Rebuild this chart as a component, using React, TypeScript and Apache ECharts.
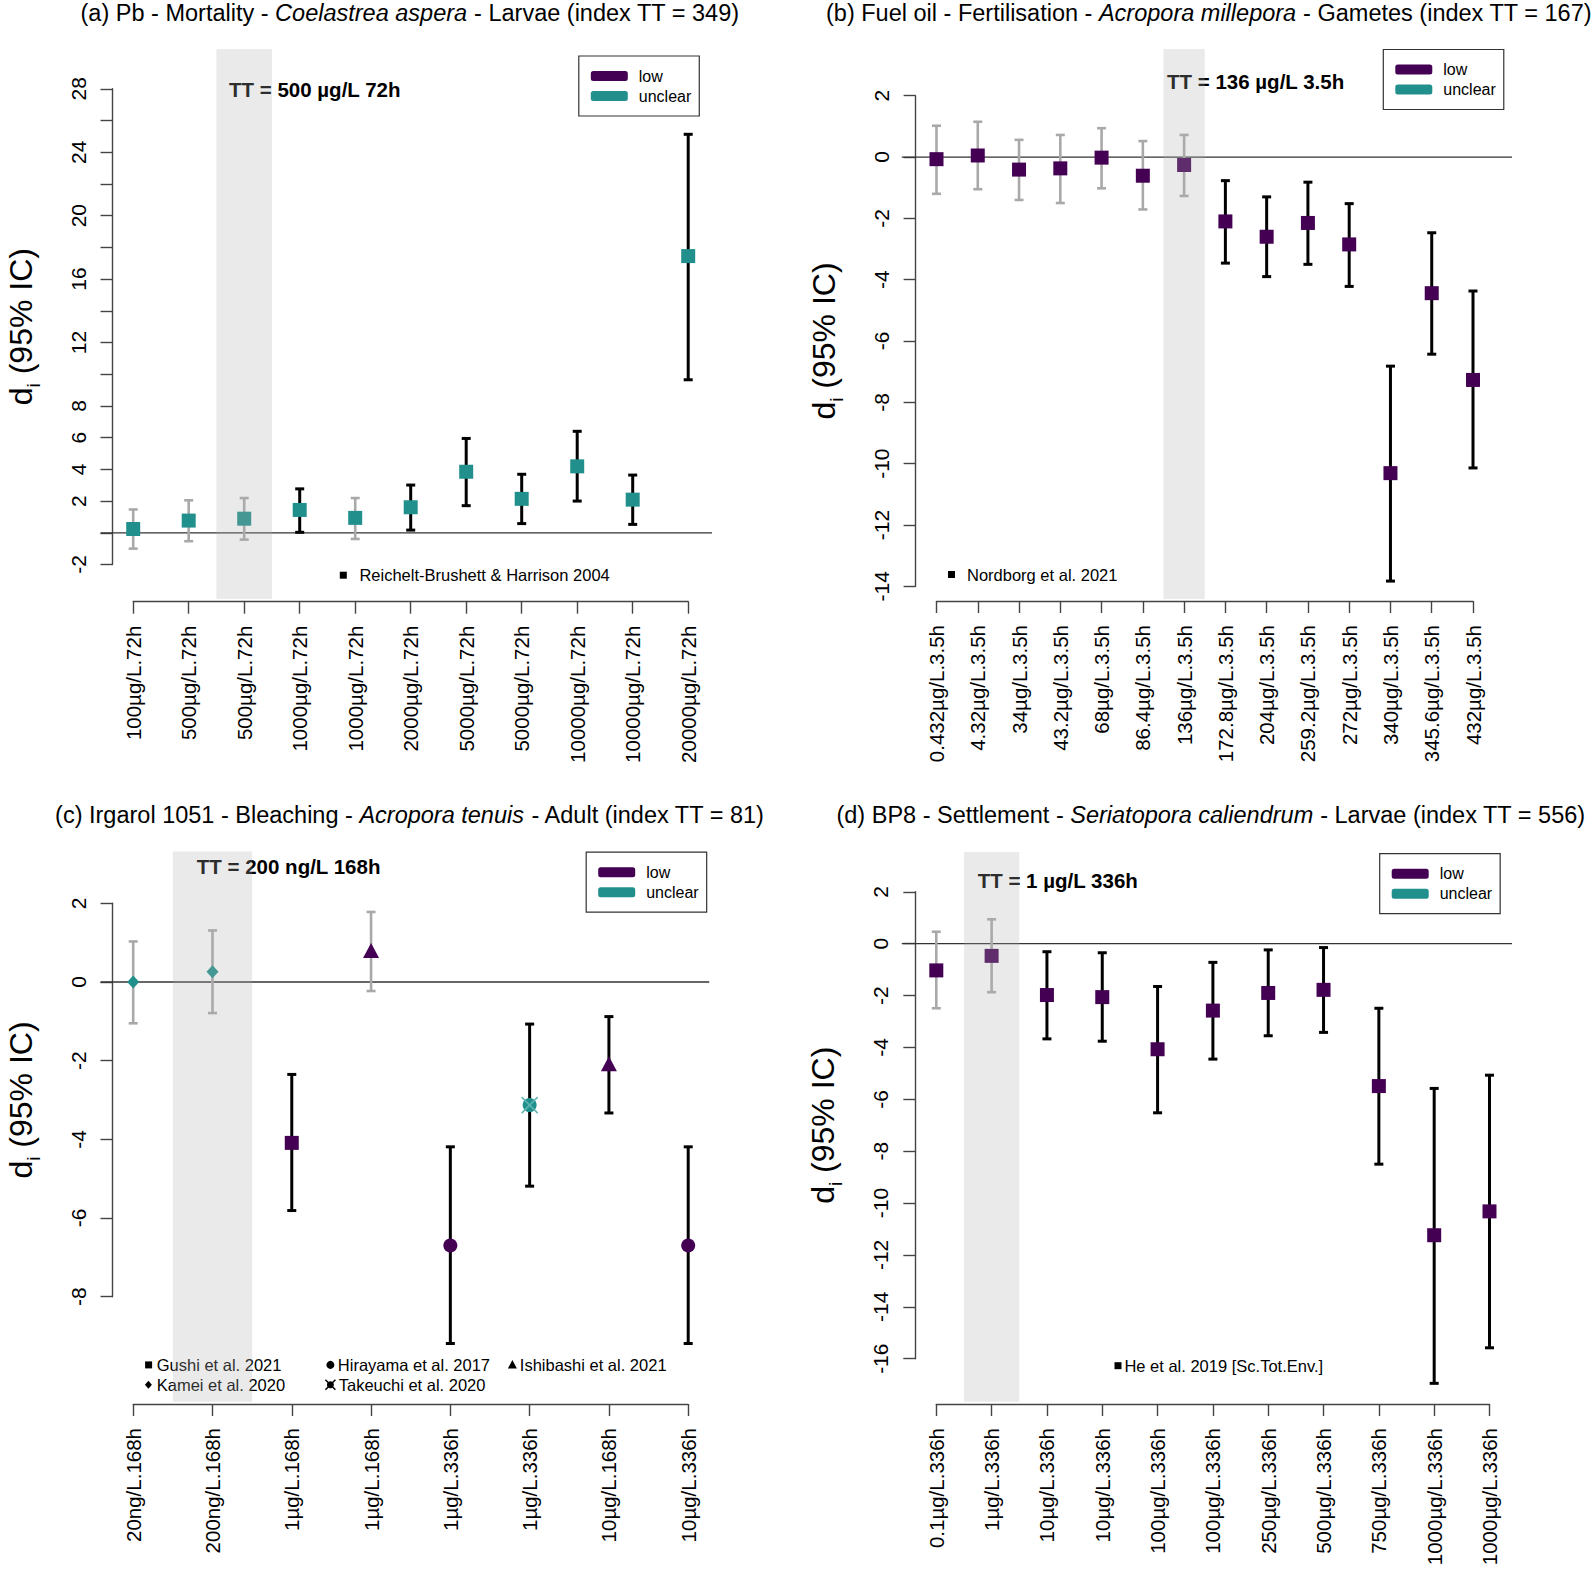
import React, { useEffect, useRef } from "react";
import * as echarts from "echarts";

const PURPLE = "#440154";
const TEAL = "#21908C";
const GREY = "#A9A9A9";
const FONT = "'Liberation Sans', Arial, Helvetica, sans-serif";

// ---------- (a) Pb - Mortality ----------
const catsA = ["100µg/L.72h", "500µg/L.72h", "500µg/L.72h", "1000µg/L.72h", "1000µg/L.72h", "2000µg/L.72h", "5000µg/L.72h", "5000µg/L.72h", "10000µg/L.72h", "10000µg/L.72h", "20000µg/L.72h"];
const estA = [0.24, 0.77, 0.89, 1.44, 0.94, 1.61, 3.85, 2.14, 4.19, 2.09, 17.45];
const loA = [-1.0, -0.53, -0.43, 0.03, -0.39, 0.17, 1.71, 0.58, 2.0, 0.53, 9.65];
const hiA = [1.47, 2.05, 2.19, 2.77, 2.19, 3.01, 5.95, 3.69, 6.4, 3.64, 25.13];
const clsA = ["unclear", "unclear", "unclear", "unclear", "unclear", "unclear", "unclear", "unclear", "unclear", "unclear", "unclear"];
const symA = ["square", "square", "square", "square", "square", "square", "square", "square", "square", "square", "square"];
const hiddenYA = [0, 10, 14, 18, 22, 26];

// ---------- (b) Fuel oil - Fertilisation ----------
const catsB = ["0.432µg/L.3.5h", "4.32µg/L.3.5h", "34µg/L.3.5h", "43.2µg/L.3.5h", "68µg/L.3.5h", "86.4µg/L.3.5h", "136µg/L.3.5h", "172.8µg/L.3.5h", "204µg/L.3.5h", "259.2µg/L.3.5h", "272µg/L.3.5h", "340µg/L.3.5h", "345.6µg/L.3.5h", "432µg/L.3.5h"];
const estB = [-0.07, 0.05, -0.41, -0.37, -0.02, -0.61, -0.26, -2.1, -2.6, -2.15, -2.85, -10.31, -4.44, -7.27];
const loB = [-1.2, -1.05, -1.4, -1.5, -1.02, -1.71, -1.27, -3.46, -3.9, -3.5, -4.22, -13.83, -6.43, -10.14];
const hiB = [1.02, 1.15, 0.56, 0.72, 0.94, 0.52, 0.72, -0.77, -1.3, -0.82, -1.52, -6.82, -2.47, -4.37];
const clsB = ["low", "low", "low", "low", "low", "low", "low", "low", "low", "low", "low", "low", "low", "low"];
const symB = ["square", "square", "square", "square", "square", "square", "square", "square", "square", "square", "square", "square", "square", "square"];

// ---------- (c) Irgarol 1051 - Bleaching ----------
const catsC = ["20ng/L.168h", "200ng/L.168h", "1µg/L.168h", "1µg/L.168h", "1µg/L.336h", "1µg/L.336h", "10µg/L.168h", "10µg/L.336h"];
const estC = [0.0, 0.26, -4.09, 0.8, -6.7, -3.13, -2.08, -6.7];
const loC = [-1.05, -0.79, -5.81, -0.23, -9.19, -5.19, -3.33, -9.19];
const hiC = [1.03, 1.31, -2.35, 1.78, -4.19, -1.07, -0.88, -4.19];
const clsC = ["unclear", "unclear", "low", "low", "low", "unclear", "low", "low"];
const symC = ["diamond", "diamond", "square", "triangle", "circle", "circlex", "triangle", "circle"];

// ---------- (d) BP8 - Settlement ----------
const catsD = ["0.1µg/L.336h", "1µg/L.336h", "10µg/L.336h", "10µg/L.336h", "100µg/L.336h", "100µg/L.336h", "250µg/L.336h", "500µg/L.336h", "750µg/L.336h", "1000µg/L.336h", "1000µg/L.336h"];
const estD = [-1.03, -0.47, -1.98, -2.06, -4.07, -2.58, -1.9, -1.78, -5.49, -11.24, -10.32];
const loD = [-2.49, -1.87, -3.67, -3.76, -6.52, -4.45, -3.55, -3.42, -8.5, -16.95, -15.58];
const hiD = [0.46, 0.94, -0.31, -0.35, -1.65, -0.72, -0.24, -0.15, -2.49, -5.58, -5.07];
const clsD = ["low", "low", "low", "low", "low", "low", "low", "low", "low", "low", "low"];
const symD = ["square", "square", "square", "square", "square", "square", "square", "square", "square", "square", "square"];

const legendNames = ["low", "unclear"];

const PANELS = [
  {
    title: ["(a) Pb - Mortality - ", "Coelastrea aspera", " - Larvae (index TT = 349)"],
    cats: catsA, est: estA, lo: loA, hi: hiA, cls: clsA, sym: symA,
    yMin: -2, yMax: 28, hidden: hiddenYA, band: 3, tt: "TT = 500 µg/L 72h",
    notes: [{ s: "square", text: "Reichelt-Brushett & Harrison 2004", sx: 343.3, tx: 359.4, y: 575.2 }],
    L: { left: 133.2, top: 88.8, width: 555, height: 475.7, yOff: 20.7, xOff: 37.2, bandTop: 39.8, bandBot: 34.5, lineL: 32.7, lineR: 23.8, titleX: 410, titleY: 13, legendX: 578.8, legendY: 56, ttX: 229, ttY: 89.5 },
  },
  {
    title: ["(b) Fuel oil - Fertilisation - ", "Acropora millepora", " - Gametes (index TT = 167)"],
    cats: catsB, est: estB, lo: loB, hi: hiB, cls: clsB, sym: symB,
    yMin: -14, yMax: 2, hidden: [], band: 7, tt: "TT = 136 µg/L 3.5h",
    notes: [{ s: "square", text: "Nordborg et al. 2021", sx: 951.5, tx: 967, y: 574.5 }],
    L: { left: 936.5, top: 95.7, width: 536.5, height: 490.6, yOff: 20.9, xOff: 14.7, bandTop: 46.7, bandBot: 12.7, lineL: 34.7, lineR: 39, titleX: 1209, titleY: 13, legendX: 1383.3, legendY: 49.5, ttX: 1167, ttY: 81.1 },
  },
  {
    title: ["(c) Irgarol 1051 - Bleaching - ", "Acropora tenuis", " - Adult (index TT = 81)"],
    cats: catsC, est: estC, lo: loC, hi: hiC, cls: clsC, sym: symC,
    yMin: -8, yMax: 2, hidden: [], band: 2, tt: "TT = 200 ng/L 168h",
    notes: [
      { s: "square", text: "Gushi et al. 2021", sx: 148.6, tx: 156.7, y: 1364.9 },
      { s: "circle", text: "Hirayama et al. 2017", sx: 330.4, tx: 337.8, y: 1364.9 },
      { s: "triangle", text: "Ishibashi et al. 2021", sx: 512.4, tx: 519.8, y: 1364.9 },
      { s: "diamond", text: "Kamei et al. 2020", sx: 148.4, tx: 156.7, y: 1384.8 },
      { s: "circlex", text: "Takeuchi et al. 2020", sx: 330.4, tx: 338.7, y: 1384.8 },
    ],
    L: { left: 133.2, top: 903.3, width: 555, height: 393.4, yOff: 20.7, xOff: 107.3, bandTop: 51.8, bandBot: 105, lineL: 32.7, lineR: 21, titleX: 410, titleY: 814.5, legendX: 586.2, legendY: 852.2, ttX: 196.8, ttY: 866.7 },
  },
  {
    title: ["(d) BP8 - Settlement - ", "Seriatopora caliendrum", " - Larvae (index TT = 556)"],
    cats: catsD, est: estD, lo: loD, hi: hiD, cls: clsD, sym: symD,
    yMin: -16, yMax: 2, hidden: [], band: 2, tt: "TT = 1 µg/L 336h",
    notes: [{ s: "square", text: "He et al. 2019 [Sc.Tot.Env.]", sx: 1118, tx: 1124.4, y: 1365.7 }],
    L: { left: 936.3, top: 891.8, width: 553.2, height: 466.9, yOff: 21, xOff: 45.3, bandTop: 39.8, bandBot: 43, lineL: 34.5, lineR: 22.5, titleX: 1211, titleY: 814.5, legendX: 1379.7, legendY: 853.7, ttX: 977.7, ttY: 880.8 },
  },
];

const SYMBOL: Record<string, string> = { square: "rect", circle: "circle", triangle: "triangle", diamond: "diamond", circlex: "circle" };
const SYMSIZE: Record<string, any> = { square: 14, circle: 14, triangle: [16, 15], diamond: [12, 13], circlex: 14 };

function noteShape(s: string, cx: number, cy: number): any[] {
  const st = { fill: "#000" };
  if (s === "square") return [{ type: "rect", shape: { x: cx - 3.5, y: cy - 3.5, width: 7, height: 7 }, style: st }];
  if (s === "circle") return [{ type: "circle", shape: { cx, cy, r: 4 }, style: st }];
  if (s === "triangle") return [{ type: "polygon", shape: { points: [[cx, cy - 5], [cx + 4.5, cy + 3.5], [cx - 4.5, cy + 3.5]] }, style: st }];
  if (s === "diamond") return [{ type: "polygon", shape: { points: [[cx, cy - 4], [cx + 3.5, cy], [cx, cy + 4], [cx - 3.5, cy]] }, style: st }];
  return [
    { type: "circle", shape: { cx, cy, r: 3.5 }, style: st },
    { type: "line", shape: { x1: cx - 5, y1: cy - 5, x2: cx + 5, y2: cy + 5 }, style: { stroke: "#000", lineWidth: 1.5 } },
    { type: "line", shape: { x1: cx + 5, y1: cy - 5, x2: cx - 5, y2: cy + 5 }, style: { stroke: "#000", lineWidth: 1.5 } },
  ];
}

function buildOption() {
  const grid: any[] = [], xAxis: any[] = [], yAxis: any[] = [], series: any[] = [], legend: any[] = [], graphic: any[] = [];
  PANELS.forEach((p, gi) => {
    const L = p.L;
    const n = p.cats.length;
    grid.push({ left: L.left, top: L.top, width: L.width, height: L.height, containLabel: false, outerBoundsMode: "none" });
    xAxis.push({
      gridIndex: gi, type: "value", min: 1, max: n, interval: 1, offset: L.xOff,
      axisLine: { show: true, onZero: false, lineStyle: { color: "#444", width: 1.4 } },
      axisTick: { show: true, length: 12, lineStyle: { color: "#444", width: 1.4 } },
      axisLabel: { rotate: 90, margin: 24, fontSize: 20.5, color: "#000", fontFamily: FONT, formatter: (v: number) => p.cats[Math.round(v) - 1] ?? "" },
      splitLine: { show: false },
    });
    yAxis.push({
      gridIndex: gi, type: "value", min: p.yMin, max: p.yMax, interval: 2, offset: L.yOff,
      axisLine: { show: true, onZero: false, lineStyle: { color: "#444", width: 1.4 } },
      axisTick: { show: true, length: 12, lineStyle: { color: "#444", width: 1.4 } },
      axisLabel: { rotate: 90, margin: 24, fontSize: 21, color: "#000", fontFamily: FONT, formatter: (v: number) => (p.hidden.includes(v) ? "" : String(v)) },
      splitLine: { show: false },
      name: "{d|d}{s|i}{d| (95% IC)}", nameLocation: "middle", nameGap: 70,
      nameTextStyle: {
        rich: {
          d: { fontSize: 32, fontFamily: FONT, color: "#000", lineHeight: 44 },
          s: { fontSize: 19, fontFamily: FONT, color: "#000", verticalAlign: "bottom" },
        },
      },
    });
    // zero line across the plot region
    series.push({
      type: "custom", xAxisIndex: gi, yAxisIndex: gi, clip: false, silent: true, z: 1,
      data: [[1, 0]],
      renderItem: (params: any, api: any) => {
        const cs = params.coordSys;
        const pt = api.coord([1, 0]);
        return { type: "line", shape: { x1: cs.x - L.lineL, y1: pt[1], x2: cs.x + cs.width + L.lineR, y2: pt[1] }, style: { stroke: "#333", lineWidth: 1.3 } };
      },
    });
    // error bars
    series.push({
      type: "custom", xAxisIndex: gi, yAxisIndex: gi, clip: false, silent: true, z: 2,
      data: p.est.map((_, i) => [i + 1, p.lo[i], p.hi[i]]),
      encode: { x: 0, y: [1, 2] },
      renderItem: (params: any, api: any) => {
        const x = api.value(0), lo = api.value(1), hi = api.value(2);
        const t = api.coord([x, hi]);
        const b = api.coord([x, lo]);
        const crosses = lo < 0 && hi > 0;
        const col = crosses ? GREY : "#000";
        const w = crosses ? 2.6 : 3;
        const cap = 4.5;
        const st = { stroke: col, lineWidth: w };
        return {
          type: "group",
          children: [
            { type: "line", shape: { x1: t[0], y1: t[1], x2: b[0], y2: b[1] }, style: st },
            { type: "line", shape: { x1: t[0] - cap, y1: t[1], x2: t[0] + cap, y2: t[1] }, style: st },
            { type: "line", shape: { x1: b[0] - cap, y1: b[1], x2: b[0] + cap, y2: b[1] }, style: st },
          ],
        };
      },
    });
    // markers by class
    legendNames.forEach((cl) => {
      const data: any[] = [];
      p.est.forEach((v, i) => {
        if (p.cls[i] === cl) data.push({ value: [i + 1, v], symbol: SYMBOL[p.sym[i]], symbolSize: SYMSIZE[p.sym[i]] });
      });
      series.push({
        type: "scatter", name: cl, xAxisIndex: gi, yAxisIndex: gi, clip: false, silent: true, z: 3,
        itemStyle: { color: cl === "low" ? PURPLE : TEAL, opacity: 1 },
        emphasis: { disabled: true },
        data,
      });
    });
    // cross on the circle-x marker
    const crossData = p.est.map((v, i) => [i + 1, v, p.sym[i] === "circlex" ? 1 : 0]).filter((d) => d[2] === 1);
    if (crossData.length) {
      series.push({
        type: "custom", xAxisIndex: gi, yAxisIndex: gi, clip: false, silent: true, z: 4,
        data: crossData,
        renderItem: (params: any, api: any) => {
          const c = api.coord([api.value(0), api.value(1)]);
          const r = 8;
          const st = { stroke: "#5fb3b0", lineWidth: 1.5 };
          return {
            type: "group",
            children: [
              { type: "line", shape: { x1: c[0] - r, y1: c[1] - r, x2: c[0] + r, y2: c[1] + r }, style: st },
              { type: "line", shape: { x1: c[0] + r, y1: c[1] - r, x2: c[0] - r, y2: c[1] + r }, style: st },
            ],
          };
        },
      });
    }
    // grey threshold band (translucent, on top)
    series.push({
      type: "custom", xAxisIndex: gi, yAxisIndex: gi, clip: false, silent: true, z: 5,
      data: [[p.band, 0]],
      renderItem: (params: any, api: any) => {
        const cs = params.coordSys;
        const k = api.value(0);
        const xl = api.coord([k - 0.5, 0])[0];
        const xr = api.coord([k + 0.5, 0])[0];
        const y1 = cs.y - L.bandTop;
        const y2 = cs.y + cs.height + L.bandBot;
        return { type: "rect", shape: { x: xl, y: y1, width: xr - xl, height: y2 - y1 }, style: { fill: "rgba(175,175,175,0.26)" } };
      },
    });
    legend.push({
      show: true, orient: "vertical", left: L.legendX, top: L.legendY,
      data: [
        { name: "low", icon: "roundRect", itemStyle: { color: PURPLE } },
        { name: "unclear", icon: "roundRect", itemStyle: { color: TEAL } },
      ],
      itemWidth: 37, itemHeight: 10, itemGap: 2,
      padding: [11, 8, 11, 12],
      borderColor: "#333", borderWidth: 1.2, borderRadius: 0,
      selectedMode: false,
      textStyle: { fontSize: 16, lineHeight: 18, color: "#000", fontFamily: FONT, padding: [0, 0, 0, 6] },
    });
    // title
    graphic.push({
      type: "text", x: L.titleX, y: L.titleY, silent: true,
      style: {
        text: `{n|${p.title[0]}}{i|${p.title[1]}}{n|${p.title[2]}}`,
        align: "center", verticalAlign: "middle",
        rich: {
          n: { fontSize: 23.5, fontFamily: FONT, fill: "#000" },
          i: { fontSize: 23.5, fontFamily: FONT, fontStyle: "italic", fill: "#000" },
        },
      },
    });
    // threshold text
    graphic.push({
      type: "text", x: L.ttX, y: L.ttY, silent: true,
      style: { text: p.tt, fontSize: 20.5, fontWeight: "bold", fontFamily: FONT, fill: "#000", align: "left", verticalAlign: "middle" },
    });
    // study notes
    p.notes.forEach((nt) => {
      noteShape(nt.s, nt.sx, nt.y).forEach((g) => graphic.push({ ...g, silent: true }));
      graphic.push({
        type: "text", x: nt.tx, y: nt.y, silent: true,
        style: { text: nt.text, fontSize: 16.5, fontFamily: FONT, fill: "#000", align: "left", verticalAlign: "middle" },
      });
    });
  });
  return { animation: false, backgroundColor: "#fff", textStyle: { fontFamily: FONT }, grid, xAxis, yAxis, series, legend, graphic };
}

export default function App() {
  const ref = useRef<HTMLDivElement>(null);
  useEffect(() => {
    if (!ref.current) return;
    const chart = echarts.init(ref.current, undefined, { renderer: "svg" });
    chart.setOption(buildOption() as any);
    return () => chart.dispose();
  }, []);
  return <div ref={ref} style={{ position: "absolute", left: 0, top: 0, width: 1594, height: 1570, background: "#fff" }} />;
}
